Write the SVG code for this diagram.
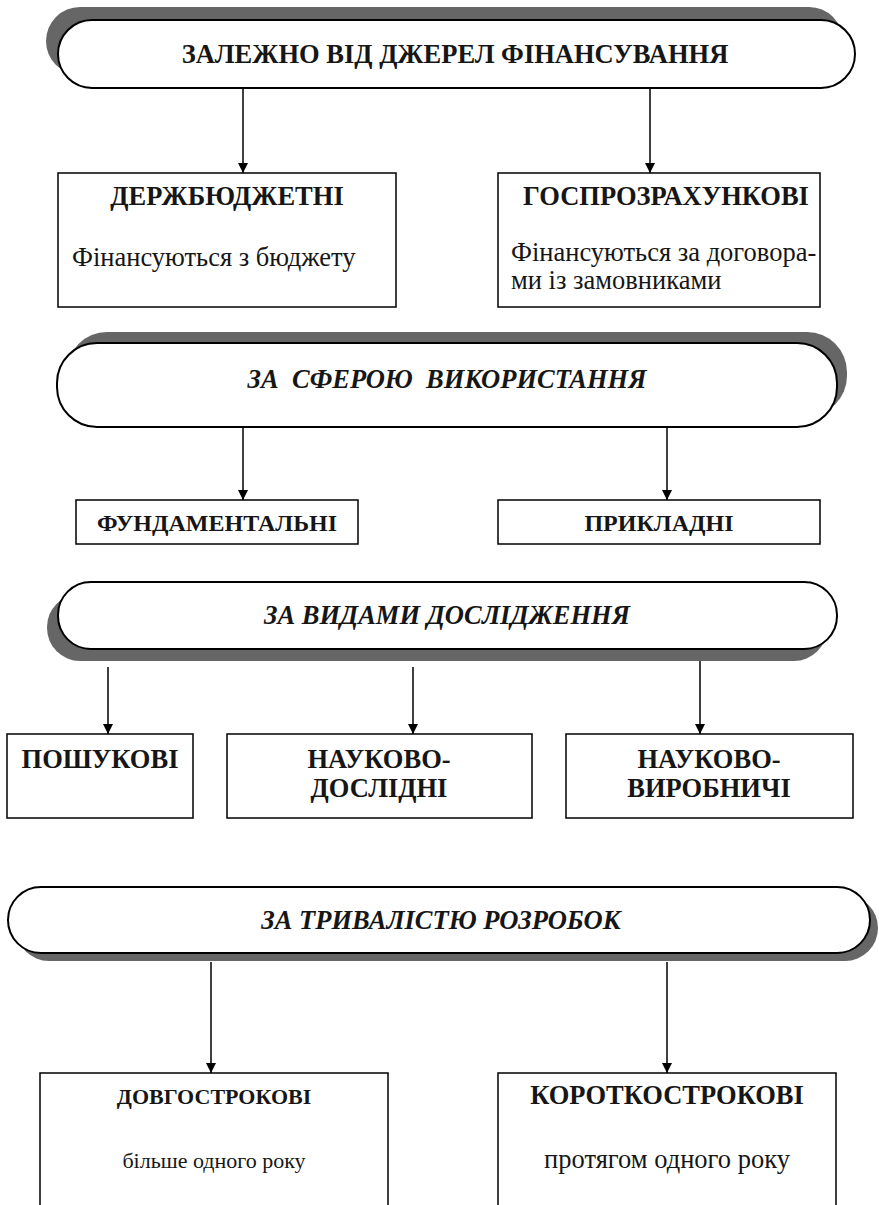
<svg xmlns="http://www.w3.org/2000/svg" width="879" height="1205" viewBox="0 0 879 1205">
<defs>
<style>
.sh{fill:#666666;stroke:none}
.bn{fill:#ffffff;stroke:#000;stroke-width:2}
.bx{fill:#ffffff;stroke:#000;stroke-width:1.5}
text{font-family:"Liberation Serif","DejaVu Serif",serif;fill:#161616}
.h{font-weight:bold;font-size:26.5px;text-anchor:middle}
.hs{font-weight:bold;font-size:24px;text-anchor:middle}
.hi{font-weight:bold;font-style:italic;font-size:26.5px;text-anchor:middle}
.b{font-size:26.5px}
.c{stroke:#000;stroke-width:1.5;fill:none}
</style>
<marker id="ar" markerWidth="10" markerHeight="10" refX="10" refY="5" orient="auto" markerUnits="userSpaceOnUse" viewBox="0 0 10 10">
<path d="M0,0 L10,5 L0,10 Z" fill="#000"/>
</marker>
</defs>
<rect width="879" height="1205" fill="#fff"/>

<g id="banner1">
<rect class="sh" x="46" y="7" width="797" height="68" rx="34"/>
<rect class="bn" x="58" y="20" width="797" height="68" rx="34"/>
<text class="h" x="455" y="63">ЗАЛЕЖНО ВІД ДЖЕРЕЛ ФІНАНСУВАННЯ</text>
</g>

<g id="connectors">
<line class="c" x1="243" y1="88" x2="243" y2="173" marker-end="url(#ar)"/>
<line class="c" x1="650" y1="88" x2="650" y2="173" marker-end="url(#ar)"/>
<line class="c" x1="243" y1="427" x2="243" y2="500" marker-end="url(#ar)"/>
<line class="c" x1="667" y1="427" x2="667" y2="500" marker-end="url(#ar)"/>
<line class="c" x1="108" y1="667" x2="108" y2="734" marker-end="url(#ar)"/>
<line class="c" x1="413" y1="667" x2="413" y2="734" marker-end="url(#ar)"/>
<line class="c" x1="700" y1="649" x2="700" y2="734" marker-end="url(#ar)"/>
<line class="c" x1="211" y1="962" x2="211" y2="1073" marker-end="url(#ar)"/>
<line class="c" x1="667" y1="962" x2="667" y2="1073" marker-end="url(#ar)"/>
</g>

<g id="box-derzh">
<rect class="bx" x="58" y="173" width="338" height="134"/>
<text class="h" x="227" y="205">ДЕРЖБЮДЖЕТНІ</text>
<text class="b" x="72" y="266">Фінансуються з бюджету</text>
</g>

<g id="box-gosp">
<rect class="bx" x="498" y="173" width="322" height="134"/>
<text class="h" x="666" y="205">ГОСПРОЗРАХУНКОВІ</text>
<text class="b" x="511" y="261">Фінансуються за договора-</text>
<text class="b" x="511" y="289">ми із замовниками</text>
</g>

<g id="banner2">
<rect class="sh" x="67" y="332" width="780" height="84" rx="40"/>
<rect class="bn" x="57" y="343" width="780" height="84" rx="40"/>
<text class="hi" x="447" y="388" xml:space="preserve">ЗА  СФЕРОЮ  ВИКОРИСТАННЯ</text>
</g>

<g id="box-fund">
<rect class="bx" x="76" y="500" width="282" height="44"/>
<text class="hs" x="217" y="531">ФУНДАМЕНТАЛЬНІ</text>
</g>

<g id="box-prykl">
<rect class="bx" x="498" y="500" width="322" height="44"/>
<text class="hs" x="659" y="531">ПРИКЛАДНІ</text>
</g>

<g id="banner3">
<rect class="sh" x="47" y="594" width="780" height="67" rx="33"/>
<rect class="bn" x="58" y="582" width="779" height="67" rx="33"/>
<text class="hi" x="447" y="624">ЗА ВИДАМИ ДОСЛІДЖЕННЯ</text>
</g>

<g id="box-posh">
<rect class="bx" x="7" y="734" width="186" height="84"/>
<text class="h" x="100" y="768">ПОШУКОВІ</text>
</g>

<g id="box-nd">
<rect class="bx" x="227" y="734" width="305" height="84"/>
<text class="h" x="379" y="768">НАУКОВО-</text>
<text class="h" x="379" y="797">ДОСЛІДНІ</text>
</g>

<g id="box-nv">
<rect class="bx" x="566" y="734" width="287" height="84"/>
<text class="h" x="709" y="768">НАУКОВО-</text>
<text class="h" x="709" y="797">ВИРОБНИЧІ</text>
</g>

<g id="banner4">
<rect class="sh" x="16" y="895" width="862" height="66" rx="33"/>
<rect class="bn" x="8" y="887" width="862" height="66" rx="33"/>
<text class="hi" x="441" y="929">ЗА ТРИВАЛІСТЮ РОЗРОБОК</text>
</g>

<g id="box-dovg">
<rect class="bx" x="40" y="1073" width="348" height="140"/>
<text class="h" x="214" y="1104" style="font-size:22px">ДОВГОСТРОКОВІ</text>
<text class="b" x="214" y="1168" text-anchor="middle" style="font-size:22px">більше одного року</text>
</g>

<g id="box-korot">
<rect class="bx" x="498" y="1073" width="338" height="140"/>
<text class="h" x="667" y="1104">КОРОТКОСТРОКОВІ</text>
<text class="b" x="667" y="1168" text-anchor="middle">протягом одного року</text>
</g>
</svg>
